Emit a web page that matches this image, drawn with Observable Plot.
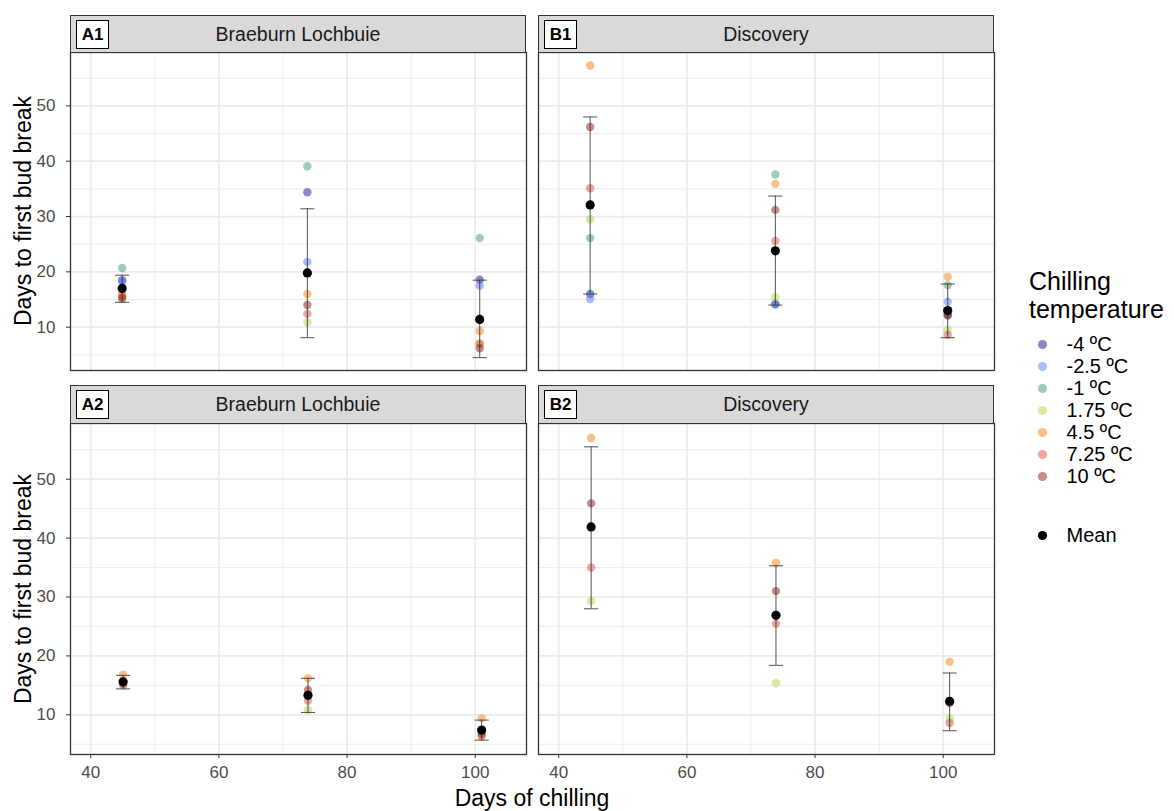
<!DOCTYPE html>
<html><head><meta charset="utf-8">
<script src="https://cdn.jsdelivr.net/npm/d3@7"></script>
<script src="https://cdn.jsdelivr.net/npm/@observablehq/plot@0.6"></script>
<style>
body{margin:0;background:#fff;font-family:"Liberation Sans",Arial,sans-serif}
#root{position:relative;width:1174px;height:811px;overflow:hidden;background:#fff}
.strip{position:absolute;background:#d9d9d9;border:1.3px solid #333;box-sizing:border-box;font-size:19.5px;color:#1a1a1a;display:flex;align-items:center;justify-content:center}
.tag{position:absolute;left:5px;top:4px;width:33px;height:29px;box-sizing:border-box;background:#fff;border:1.2px solid #000;font-weight:bold;font-size:17px;color:#000;display:flex;align-items:center;justify-content:center}
.ytitle{position:absolute;width:400px;text-align:center;font-size:23px;color:#000;transform:rotate(-90deg);transform-origin:center center;line-height:26px}
</style></head>
<body><div id="root"></div>
<script>
// ---- data ----
const temps = ["-4 ºC","-2.5 ºC","-1 ºC","1.75 ºC","4.5 ºC","7.25 ºC","10 ºC"];
const tempColors = ["#15158f","#5277ff","#3f9b6b","#a9d941","#f78115","#dd4b4b","#931515"];
const bottomTemps = ["1.75 ºC","4.5 ºC","7.25 ºC","10 ºC"];
const daysTop = [44.9, 73.8, 100.7];
const daysBottom = [45.05, 73.9, 101];

// A1 Braeburn Lochbuie (rows follow temps)
const a1Values = [[18.5,34.4,18.6],[18.2,21.8,17.5],[20.7,39.1,26.1],[15.3,10.9,7.0],[15.9,16.0,9.3],[15.6,12.4,7.0],[15.2,14.0,6.2]];
const a1Mean = [17.0, 19.8, 11.4];
const a1Low  = [14.5, 8.1, 4.5];
const a1High = [19.4, 31.4, 18.5];
// B1 Discovery
const b1Values = [[16.0,14.2,12.3],[15.1,14.1,14.6],[26.1,37.6,17.6],[29.5,15.4,9.5],[57.3,35.9,19.1],[35.1,25.6,8.6],[46.2,31.2,12.1]];
const b1Mean = [32.1, 23.8, 13.0];
const b1Low  = [16.0, 14.0, 8.1];
const b1High = [48.0, 33.7, 17.8];
// A2 Braeburn Lochbuie (rows follow bottomTemps)
const a2Values = [[15.2,10.8,6.5],[16.8,16.2,9.4],[15.0,12.4,6.3],[15.4,14.2,6.8]];
const a2Mean = [15.6, 13.3, 7.4];
const a2Low  = [14.4, 10.4, 5.7];
const a2High = [16.7, 16.2, 9.1];
// B2 Discovery
const b2Values = [[29.3,15.4,9.4],[57.0,35.8,19.0],[35.0,25.5,8.6],[45.9,31.0,12.0]];
const b2Mean = [41.9, 26.9, 12.3];
const b2Low  = [28.0, 18.4, 7.3];
const b2High = [55.5, 35.3, 17.1];

const majorX = [40,60,80,100];
const minorX = [50,70,90];
const majorY = [10,20,30,40,50];
const minorY = [5,15,25,35,45,55];

// ---- layout ----
const root = document.getElementById("root");
const FONT = '"Liberation Sans", Arial, sans-serif';
const colLeft = [70, 538];
const panelW = 456;
const rows = [
  {top: 52, h: 318, stripTop: 15, ydom: [2.17, 59.65]},
  {top: 423, h: 331, stripTop: 385, ydom: [3.26, 59.46]}
];
const xdom = [36.84, 108.0];
const ML = 50, MB = 36;

function place(el, left, top){ el.style.position="absolute"; el.style.left=left+"px"; el.style.top=top+"px"; root.appendChild(el); return el; }

function panel(vals, rowTemps, days, mean, lo, hi, row, col, tag, title){
  const r = rows[row];
  const isLeft = col === 0, isBottom = row === 1;
  const pts = [];
  rowTemps.forEach((t,i)=> days.forEach((d,j)=> pts.push({temp:t, x:d, y:vals[i][j]})));
  const summ = days.map((d,j)=>({x:d, mean:mean[j], lo:lo[j], hi:hi[j]}));
  const chart = Plot.plot({
    width: panelW + (isLeft?ML:0),
    height: r.h + (isBottom?MB:0),
    marginLeft: isLeft?ML:0, marginRight: 0, marginTop: 0, marginBottom: isBottom?MB:0,
    x: {domain: xdom, axis: null},
    y: {domain: r.ydom, axis: null},
    color: {domain: temps, range: tempColors},
    style: {fontFamily: FONT, background: "transparent", overflow: "visible"},
    marks: [
      Plot.gridX(minorX, {stroke:"#ebebeb", strokeOpacity:1, strokeWidth:0.9}),
      Plot.gridY(minorY, {stroke:"#ebebeb", strokeOpacity:1, strokeWidth:0.9}),
      Plot.gridX(majorX, {stroke:"#ebebeb", strokeOpacity:1, strokeWidth:1.7}),
      Plot.gridY(majorY, {stroke:"#ebebeb", strokeOpacity:1, strokeWidth:1.7}),
      isLeft ? Plot.axisY(majorY, {anchor:"left", tickSize:4, tickPadding:11, label:null, fontSize:17, stroke:"#333", fill:"#4d4d4d"}) : null,
      isBottom ? Plot.axisX(majorX, {anchor:"bottom", tickSize:4, tickPadding:7, label:null, fontSize:17, stroke:"#333", fill:"#4d4d4d"}) : null,
      Plot.dot(pts, {x:"x", y:"y", fill:"temp", r:4.2, fillOpacity:0.5, stroke:"none"}),
      Plot.ruleX(summ, {x:"x", y1:"lo", y2:"hi", stroke:"#333", strokeWidth:1, strokeOpacity:0.85}),
      Plot.link(summ, {x1:d=>d.x-1.1, x2:d=>d.x+1.1, y1:"lo", y2:"lo", stroke:"#333", strokeWidth:1, strokeOpacity:0.85}),
      Plot.link(summ, {x1:d=>d.x-1.1, x2:d=>d.x+1.1, y1:"hi", y2:"hi", stroke:"#333", strokeWidth:1, strokeOpacity:0.85}),
      Plot.dot(summ, {x:"x", y:"mean", fill:"black", r:4.6}),
      Plot.frame({stroke:"#333", strokeWidth:1.3})
    ]
  });
  place(chart, colLeft[col] - (isLeft?ML:0), r.top);
  const strip = document.createElement("div");
  strip.className = "strip";
  strip.style.width = panelW + "px";
  strip.style.height = (r.top - r.stripTop + 1) + "px";
  strip.textContent = title;
  const tg = document.createElement("div");
  tg.className = "tag"; tg.textContent = tag;
  strip.appendChild(tg);
  place(strip, colLeft[col], r.stripTop);
}

panel(a1Values, temps, daysTop, a1Mean, a1Low, a1High, 0, 0, "A1", "Braeburn Lochbuie");
panel(b1Values, temps, daysTop, b1Mean, b1Low, b1High, 0, 1, "B1", "Discovery");
panel(a2Values, bottomTemps, daysBottom, a2Mean, a2Low, a2High, 1, 0, "A2", "Braeburn Lochbuie");
panel(b2Values, bottomTemps, daysBottom, b2Mean, b2Low, b2High, 1, 1, "B2", "Discovery");

// axis titles
for (const r of rows) {
  const yt = document.createElement("div");
  yt.className = "ytitle"; yt.textContent = "Days to first bud break";
  place(yt, 23 - 200, (r.top + r.h/2) - 13);
}
const xt = document.createElement("div");
xt.textContent = "Days of chilling";
xt.style.cssText = "width:400px;text-align:center;font-size:23px;color:#000;line-height:26px";
place(xt, 532 - 200, 785);

// legend
const lt = document.createElement("div");
lt.innerHTML = "Chilling<br>temperature";
lt.style.cssText = "font-size:25px;line-height:28px;color:#000;white-space:nowrap";
place(lt, 1029, 267);

const legend = Plot.plot({
  width: 150, height: 160, margin: 0,
  x: {domain:[0,150], range:[0,150], axis:null},
  y: {type:"point", domain: temps, range:[13,147], padding:0, axis:null},
  color: {domain: temps, range: tempColors},
  style: {fontFamily: FONT, background:"transparent", overflow:"visible"},
  marks: [
    Plot.dot(temps, {x: 12, y: d=>d, fill: d=>d, r:4.6, fillOpacity:0.5}),
    Plot.text(temps, {x: 36, y: d=>d, text: d=>d, textAnchor:"start", fontSize:20, fill:"#000"})
  ]
});
place(legend, 1030, 330);

const meanLegend = Plot.plot({
  width: 150, height: 30, margin: 0,
  x: {domain:[0,150], range:[0,150], axis:null},
  y: {domain:[0,30], range:[0,30], axis:null},
  style: {fontFamily: FONT, background:"transparent", overflow:"visible"},
  marks: [
    Plot.dot(["Mean"], {x: 12, y: 15, fill:"black", r:4.6}),
    Plot.text(["Mean"], {x: 36, y: 15, text: d=>d, textAnchor:"start", fontSize:20, fill:"#000"})
  ]
});
place(meanLegend, 1030, 520);
</script>
</body></html>
